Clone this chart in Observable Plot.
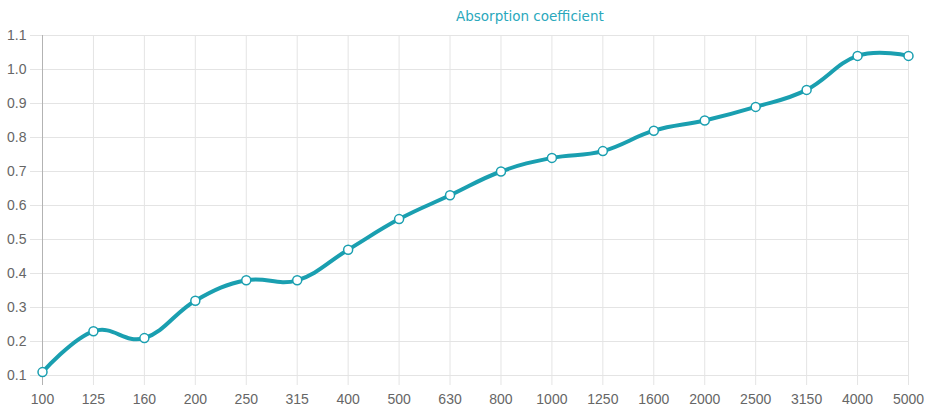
<!DOCTYPE html>
<html>
<head>
<meta charset="utf-8">
<script src="https://cdn.jsdelivr.net/npm/d3@7"></script>
<script src="https://cdn.jsdelivr.net/npm/@observablehq/plot@0.6"></script>
<style>
  body { margin: 0; background: #fff; }
  #wrap { position: relative; width: 928px; height: 412px; }
  #title { position: absolute; left: 0; width: 928px; top: 0; height: 20px; line-height: 32px;
    font-family: "DejaVu Sans", sans-serif; font-size: 13.5px; color: #2aa8bc; }
  #title span { position: absolute; left: 456px; top: 0; }
  #chart { position: absolute; top: 20px; left: 0; }
</style>
</head>
<body>
<div id="wrap">
  <div id="title"><span>Absorption coefficient</span></div>
  <div id="chart"></div>
</div>
<script>
const frequencies = ["100","125","160","200","250","315","400","500","630","800","1000","1250","1600","2000","2500","3150","4000","5000"];
const absorption = [0.11,0.23,0.21,0.32,0.38,0.38,0.47,0.56,0.63,0.70,0.74,0.76,0.82,0.85,0.89,0.94,1.04,1.04];
const yTicks = [0.1,0.2,0.3,0.4,0.5,0.6,0.7,0.8,0.9,1.0,1.1];

const data = frequencies.map((f, i) => ({f, v: absorption[i]}));
const teal = "#1a9fb0";
const grid = "#e4e4e4";

const chart = Plot.plot({
  width: 928,
  height: 392,
  marginTop: 15,
  marginBottom: 37,
  marginLeft: 42,
  marginRight: 20,
  style: {fontFamily: "'Liberation Sans', Arial, sans-serif", fontSize: "14px", color: "#666", background: "transparent"},
  x: {type: "point", domain: frequencies, padding: 0, round: false, label: null},
  y: {domain: [0.1, 1.1], label: null},
  marks: [
    Plot.ruleY(yTicks, {y: d => d, stroke: grid, strokeWidth: 1, insetLeft: -12}),
    Plot.ruleX(frequencies.slice(1), {x: d => d, stroke: grid, strokeWidth: 1, insetBottom: -10}),
    Plot.ruleX(frequencies.slice(0, 1), {x: d => d, stroke: "#b3b3b3", strokeWidth: 1, insetBottom: -10}),
    Plot.axisY(yTicks, {tickSize: 0, tickPadding: 16, tickFormat: d => d.toFixed(1), fill: "#666", fontSize: 14, label: null}),
    Plot.axisX(frequencies, {tickSize: 0, tickPadding: 19, fill: "#666", fontSize: 14, label: null}),
    Plot.line(data, {x: "f", y: "v", stroke: teal, strokeWidth: 4, curve: "cardinal", tension: -0.2}),
    Plot.dot(data, {x: "f", y: "v", r: 4.5, fill: "#fff", stroke: teal, strokeWidth: 1.5})
  ]
});
document.getElementById("chart").appendChild(chart);
</script>
</body>
</html>
